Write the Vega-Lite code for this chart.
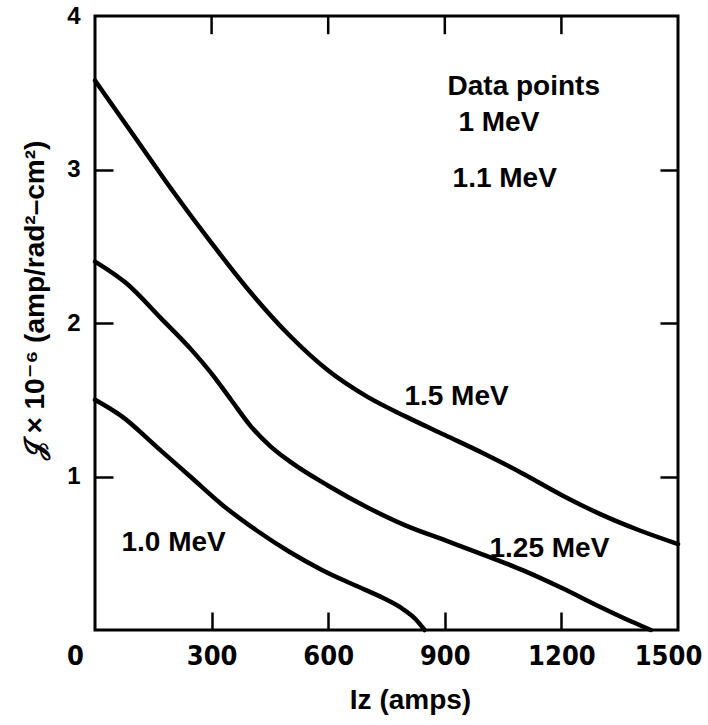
{
  "$schema": "https://vega.github.io/schema/vega-lite/v6.json",
  "width": 583,
  "height": 614,
  "autosize": {"type": "none"},
  "padding": {"left": 95, "top": 16, "right": 30, "bottom": 95},
  "background": "white",
  "config": {
    "view": {"stroke": "black", "strokeWidth": 3},
    "axis": {"grid": false, "domain": false}
  },
  "datasets": {
    "curves": [
      {"curve": "1.5 MeV", "Iz": 0, "J": 3.58},
      {"curve": "1.5 MeV", "Iz": 100, "J": 3.22},
      {"curve": "1.5 MeV", "Iz": 200, "J": 2.86},
      {"curve": "1.5 MeV", "Iz": 300, "J": 2.52},
      {"curve": "1.5 MeV", "Iz": 400, "J": 2.2},
      {"curve": "1.5 MeV", "Iz": 500, "J": 1.92},
      {"curve": "1.5 MeV", "Iz": 600, "J": 1.69},
      {"curve": "1.5 MeV", "Iz": 700, "J": 1.52},
      {"curve": "1.5 MeV", "Iz": 800, "J": 1.39},
      {"curve": "1.5 MeV", "Iz": 900, "J": 1.27},
      {"curve": "1.5 MeV", "Iz": 1000, "J": 1.15},
      {"curve": "1.5 MeV", "Iz": 1100, "J": 1.02},
      {"curve": "1.5 MeV", "Iz": 1200, "J": 0.88},
      {"curve": "1.5 MeV", "Iz": 1300, "J": 0.755},
      {"curve": "1.5 MeV", "Iz": 1400, "J": 0.65},
      {"curve": "1.5 MeV", "Iz": 1500, "J": 0.56},
      {"curve": "1.25 MeV", "Iz": 0, "J": 2.4},
      {"curve": "1.25 MeV", "Iz": 80, "J": 2.26},
      {"curve": "1.25 MeV", "Iz": 170, "J": 2.03},
      {"curve": "1.25 MeV", "Iz": 250, "J": 1.82},
      {"curve": "1.25 MeV", "Iz": 300, "J": 1.67},
      {"curve": "1.25 MeV", "Iz": 350, "J": 1.5},
      {"curve": "1.25 MeV", "Iz": 400, "J": 1.33},
      {"curve": "1.25 MeV", "Iz": 450, "J": 1.2},
      {"curve": "1.25 MeV", "Iz": 500, "J": 1.1},
      {"curve": "1.25 MeV", "Iz": 600, "J": 0.94},
      {"curve": "1.25 MeV", "Iz": 700, "J": 0.8},
      {"curve": "1.25 MeV", "Iz": 800, "J": 0.68},
      {"curve": "1.25 MeV", "Iz": 900, "J": 0.585},
      {"curve": "1.25 MeV", "Iz": 1000, "J": 0.49},
      {"curve": "1.25 MeV", "Iz": 1100, "J": 0.39},
      {"curve": "1.25 MeV", "Iz": 1200, "J": 0.275},
      {"curve": "1.25 MeV", "Iz": 1300, "J": 0.15},
      {"curve": "1.25 MeV", "Iz": 1380, "J": 0.055},
      {"curve": "1.25 MeV", "Iz": 1430, "J": 0.0},
      {"curve": "1.0 MeV", "Iz": 0, "J": 1.5},
      {"curve": "1.0 MeV", "Iz": 70, "J": 1.39},
      {"curve": "1.0 MeV", "Iz": 160, "J": 1.19},
      {"curve": "1.0 MeV", "Iz": 245, "J": 1.0},
      {"curve": "1.0 MeV", "Iz": 330, "J": 0.81},
      {"curve": "1.0 MeV", "Iz": 415, "J": 0.65},
      {"curve": "1.0 MeV", "Iz": 500, "J": 0.51},
      {"curve": "1.0 MeV", "Iz": 585, "J": 0.39},
      {"curve": "1.0 MeV", "Iz": 670, "J": 0.29},
      {"curve": "1.0 MeV", "Iz": 740, "J": 0.21},
      {"curve": "1.0 MeV", "Iz": 790, "J": 0.14},
      {"curve": "1.0 MeV", "Iz": 825, "J": 0.07},
      {"curve": "1.0 MeV", "Iz": 848, "J": 0.0}
    ],
    "labels": [
      {"text": "Data points", "Iz": 907, "J": 3.54},
      {"text": "1 MeV", "Iz": 935, "J": 3.3},
      {"text": "1.1 MeV", "Iz": 920, "J": 2.94},
      {"text": "1.5 MeV", "Iz": 796, "J": 1.52},
      {"text": "1.25 MeV", "Iz": 1015, "J": 0.53},
      {"text": "1.0 MeV", "Iz": 68, "J": 0.57}
    ],
    "topticks": [
      {"Iz": 300, "J": 3.94},
      {"Iz": 600, "J": 3.94},
      {"Iz": 900, "J": 3.94},
      {"Iz": 1200, "J": 3.94}
    ]
  },
  "layer": [
    {
      "data": {"name": "curves"},
      "mark": {"type": "line", "color": "black", "strokeWidth": 4.5, "interpolate": "monotone", "strokeCap": "round"},
      "encoding": {
        "x": {
          "field": "Iz", "type": "quantitative",
          "scale": {"domain": [0, 1500], "nice": false, "zero": false},
          "axis": {
            "orient": "bottom",
            "offset": -18,
            "values": [0, 300, 600, 900, 1200, 1500],
            "format": "d",
            "tickSize": 18, "tickWidth": 2.5, "tickColor": {"condition": {"test": "datum.value == 0 || datum.value == 1500", "value": "transparent"}, "value": "black"},
            "labelPadding": 13,
            "labelFont": "Liberation Sans Narrow, DejaVu Sans Condensed, Liberation Sans",
            "labelFontWeight": "bold", "labelFontSize": 27, "labelColor": "black",
            "labelOffset": {"condition": [{"test": "datum.value == 0", "value": -20}, {"test": "datum.value == 1500", "value": -10}], "value": 0},
            "labelFlush": false,
            "title": "Iz (amps)",
            "titleFont": "Liberation Sans", "titleFontSize": 28, "titleFontWeight": "bold", "titleColor": "black",
            "titleX": 315, "titleY": 88, "titleBaseline": "middle", "titleAlign": "center"
          }
        },
        "y": {
          "field": "J", "type": "quantitative",
          "scale": {"domain": [0, 4], "nice": false},
          "axis": {
            "orient": "left",
            "offset": -18,
            "values": [1, 2, 3, 4],
            "tickSize": 18, "tickWidth": 2.5, "tickColor": {"condition": {"test": "datum.value == 4", "value": "transparent"}, "value": "black"},
            "labelPadding": 15,
            "labelFont": "Liberation Sans", "labelFontWeight": "bold", "labelFontSize": 24, "labelColor": "black",
            "labelFlush": false,
            "title": "𝒥 × 10⁻⁶  (amp/rad²–cm²)",
            "titleFont": "Liberation Sans, DejaVu Sans", "titleFontSize": 28, "titleFontWeight": "bold", "titleColor": "black",
            "titleX": -78, "titleY": 284, "titleBaseline": "middle", "titleAlign": "center", "titleAngle": -90
          }
        },
        "detail": {"field": "curve"}
      }
    },
    {
      "data": {"name": "labels"},
      "mark": {"type": "text", "align": "left", "baseline": "middle", "font": "Liberation Sans", "fontSize": 28, "fontWeight": "bold", "color": "black"},
      "encoding": {
        "x": {"field": "Iz", "type": "quantitative", "axis": null},
        "y": {
          "field": "J", "type": "quantitative",
          "axis": {"orient": "right", "offset": -18, "values": [1, 2, 3], "labels": false, "title": null, "tickSize": 18, "tickWidth": 2.5, "tickColor": "black"}
        },
        "text": {"field": "text"}
      }
    },
    {
      "data": {"name": "topticks"},
      "mark": {"type": "tick", "orient": "vertical", "color": "black", "size": 18, "thickness": 2.5, "opacity": 1},
      "encoding": {
        "x": {"field": "Iz", "type": "quantitative", "axis": null},
        "y": {"field": "J", "type": "quantitative", "axis": null}
      }
    }
  ],
  "resolve": {"axis": {"x": "independent", "y": "independent"}}
}
